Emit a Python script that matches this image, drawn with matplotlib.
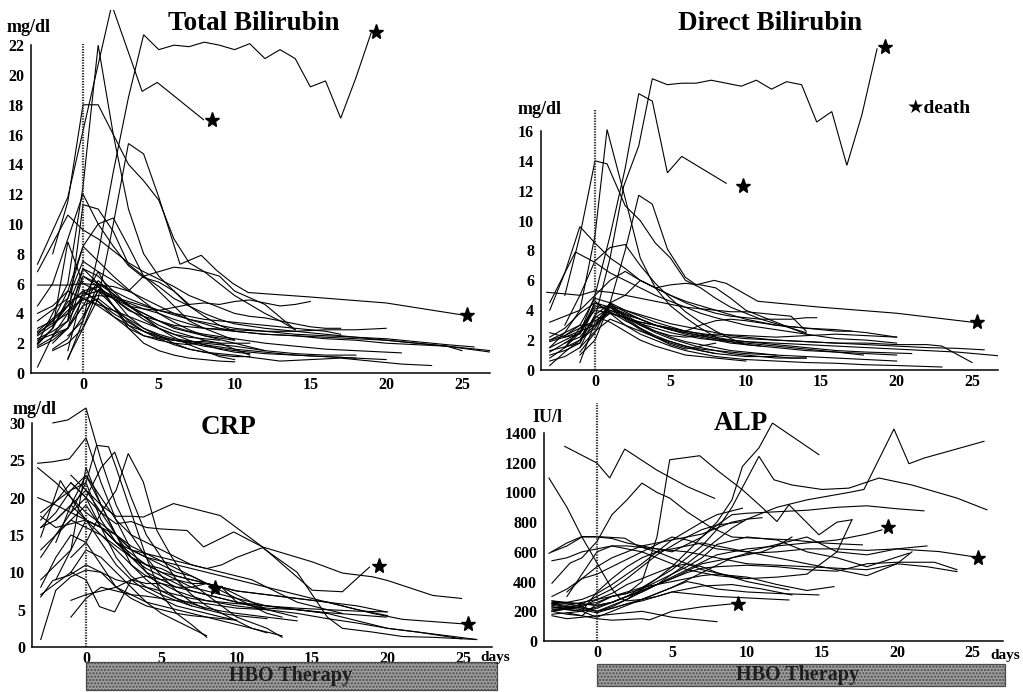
import matplotlib
matplotlib.use("Agg")
import matplotlib.pyplot as plt
from matplotlib.patches import Rectangle

W, H = 1023, 692
SERIF = "Liberation Serif"
plt.rcParams["hatch.color"] = "#6e6e6e"
plt.rcParams["hatch.linewidth"] = 1.0

days_ticks = [0, 5, 10, 15, 20, 25]

# ---- Total bilirubin (mg/dl): one (days, values) pair per patient ----
tbil = [
    ([-1, 0, 1, 2, 3, 4, 5, 6, 7, 8, 9, 10, 11, 12, 13, 14, 15, 16, 17, 18, 19],
     [2.5, 3.5, 8, 13.5, 18.5, 22.7, 21.7, 22.0, 21.9, 22.2, 22.0, 21.7, 22.1, 21.1, 21.7, 21.1, 19.2, 19.6, 17.1, 19.8, 22.8]),
    ([-3, -1, 1.9, 3.9, 4.9, 7.95], [7.3, 11.8, 24.7, 18.9, 19.5, 17.0]),
    ([-1, 0, 1, 2, 3, 4, 5, 6.4, 7.8, 8.8, 9.9, 10.9, 15, 20, 25],
     [1, 3, 5, 10, 15.4, 14.7, 11.8, 7.3, 7.9, 6.9, 6.0, 5.4, 5.1, 4.7, 3.9]),
    ([-3, -1, 0, 1, 2, 3, 4, 5, 6, 7, 8, 9, 10], [2, 6, 12.5, 22, 16, 11, 8, 6.5, 5.5, 4.5, 3.8, 3.2, 2.8]),
    ([-2, -1, 0, 1, 2, 3, 4, 5, 6, 7, 8, 9, 10, 11, 12, 13, 14],
     [8, 11.5, 18, 18, 16, 14, 12.9, 11.6, 9, 7.4, 6.8, 6, 5.2, 4.6, 4, 3.5, 2.9]),
    ([-3, -1, 0, 1, 2, 3, 4, 5, 6, 7, 8, 9, 10, 11, 12, 13, 14, 15, 16, 17],
     [6.8, 10.6, 9.6, 9, 8.2, 7.4, 6.8, 6.3, 5.8, 5.2, 4.8, 4.4, 4.0, 3.8, 3.7, 3.5, 3.3, 3.1, 3.0, 3.0]),
    ([-2, -1, 0, 1, 2, 3, 4, 5, 6, 7, 8, 9, 10], [3, 5, 8.5, 10, 10.4, 8.5, 6.5, 5.5, 4.5, 3.5, 3, 2.6, 2.2]),
    ([-1, 0, 1, 2, 3, 4, 5, 6, 7, 8, 9, 10, 12, 14, 16, 18, 20, 22, 24, 26.9],
     [3.5, 11.3, 11, 9.5, 7.3, 6.5, 5.8, 5, 4.5, 4, 3.6, 3.3, 3.0, 2.8, 2.6, 2.4, 2.2, 2.0, 1.8, 1.5]),
    ([-3, -2, -1, 0, 1, 2, 3, 4, 5, 6, 8, 10], [1.9, 3, 8.8, 6, 5.5, 5, 4.5, 4, 3.5, 3.0, 2.5, 2.2]),
    ([-3, -2, -1, 0, 1, 2, 3, 4, 5, 6, 7, 8, 9, 10, 11], [0.4, 2.5, 4, 6.5, 5.8, 5, 4.3, 3.6, 3, 2.6, 2.2, 1.9, 1.6, 1.4, 1.3]),
    ([-3, -1, 0, 1, 2, 3, 4, 5, 6, 7, 8, 9, 10, 12, 14],
     [5.9, 5.9, 6.0, 5.9, 5.8, 5.5, 6.5, 6.8, 7.1, 7.0, 6.8, 6.5, 5.5, 4.6, 2.9]),
    ([-3, -2, -1, 0, 1, 2, 3, 4, 5, 6, 7, 8, 9, 10, 11, 12, 13, 14, 15],
     [2.5, 3.2, 4.5, 7, 6, 5.3, 4.5, 4.3, 4.2, 4.4, 4.6, 4.7, 4.6, 4.8, 4.9, 4.7, 4.5, 4.6, 4.8]),
    ([-3, -2, -1, 0, 1, 2, 3, 4, 5, 6, 7, 8, 9, 10, 11, 12, 13, 14, 15, 16, 17],
     [4, 4.5, 5.5, 5, 5.2, 5.1, 4.8, 4.5, 4.2, 4, 3.8, 3.6, 3.5, 3.4, 3.3, 3.2, 3.1, 3.0, 2.9, 2.8, 2.6]),
    ([-3, -1, 0, 1, 2, 3, 4, 5, 6, 8, 10, 12, 14, 16, 18, 20],
     [2.8, 4.5, 5.5, 5.8, 5, 4.2, 3.8, 3.5, 3.2, 3.0, 2.9, 2.8, 2.8, 2.9, 2.9, 3.0]),
    ([-3, -2, -1, 0, 1, 2, 3, 4, 5, 6, 7, 8, 10, 12, 14, 16, 18, 20, 22, 24, 26.9],
     [2, 3, 4.8, 5.2, 5.5, 5, 4.7, 4.3, 4, 3.6, 3.3, 3.0, 2.8, 2.6, 2.5, 2.3, 2.2, 2.0, 1.9, 1.8, 1.4]),
    ([-3, -1, 0, 1, 2, 3, 4, 5, 6, 7, 8, 10, 12, 14, 16, 18, 21],
     [1.8, 3, 4.5, 6.2, 5.3, 4.5, 4, 3.5, 3.1, 2.8, 2.6, 2.3, 2.0, 1.8, 1.6, 1.5, 1.35]),
    ([-3, -2, -1, 0, 1, 2, 3, 4, 5, 6, 7, 8, 9, 10, 11], [2.3, 2.8, 3.5, 5.3, 5.8, 4.5, 3.2, 2.5, 2.3, 2.2, 2.1, 2.1, 2.0, 2.0, 2.0]),
    ([-2, -1, 0, 1, 2, 3, 4, 5, 6, 7, 8, 9, 10, 11], [1.6, 2.3, 3.8, 5.5, 4.5, 3.5, 2.8, 2.3, 1.9, 1.6, 1.4, 1.2, 1.1, 1.1]),
    ([-1, 0, 1, 2, 3, 4, 5, 6, 7, 8, 9, 10], [0.9, 3.5, 6, 4.5, 3, 2, 1.5, 1.2, 1.0, 0.9, 0.8, 0.75]),
    ([-3, -2, -1, 0, 1, 2, 3, 4, 5, 6, 7, 8, 10, 12, 14, 16, 18],
     [3, 3.5, 4.5, 5.5, 4.8, 4, 3.4, 2.8, 2.4, 2.2, 2.0, 1.8, 1.5, 1.3, 1.2, 1.1, 1.0]),
    ([-3, -1, 0, 1, 2, 3, 4, 5, 6, 8, 10, 12, 14, 16, 18, 20],
     [2.7, 4, 5, 4.5, 3.8, 3.2, 2.8, 2.5, 2.2, 1.9, 1.6, 1.4, 1.2, 1.1, 1.0, 0.9]),
    ([-2, -1, 0, 1, 2, 3, 4, 5, 6, 7, 8, 10, 13, 15, 17, 19, 21, 23],
     [2, 3, 5, 6.8, 5, 3.8, 3.0, 2.5, 2.0, 1.6, 1.4, 1.2, 0.8, 0.9, 1.0, 0.8, 0.6, 0.5]),
    ([-3, -2, -1, 0, 1, 2, 3, 4, 5, 6, 7, 8, 9, 10, 12, 14, 16, 18, 20, 22, 24, 25.8],
     [2.2, 2.6, 3, 6.5, 6, 5.5, 5.0, 4.6, 4.2, 3.9, 3.6, 3.4, 3.2, 3.0, 2.8, 2.6, 2.5, 2.4, 2.3, 2.1, 1.9, 1.75]),
    ([-3, -1, 0, 1, 2, 3, 4, 5, 6, 7, 8, 9, 10, 12, 14, 16, 18, 20, 22, 24, 25],
     [3.5, 5, 7.5, 6.8, 6.2, 5.5, 5, 4.5, 4.0, 3.6, 3.3, 3.0, 2.8, 2.6, 2.5, 2.4, 2.3, 2.2, 2.0, 1.8, 1.5]),
    ([-2, -1, 0, 1, 2, 3, 4, 5, 6, 7, 8, 9, 10, 11], [2.5, 3.5, 7, 6.5, 5.5, 4.5, 3.8, 3.2, 2.8, 2.5, 2.2, 2.0, 1.6, 1.2]),
    ([-1, 0, 1, 2, 3, 4, 5, 6, 7, 8], [1.5, 5.5, 4.8, 3.8, 3.0, 2.5, 2.2, 2.0, 1.9, 2.2]),
    ([-3, -2, -1, 0, 1, 2, 3, 4, 5, 6, 8, 10, 12, 14, 16, 18],
     [1.7, 2.2, 3, 4.5, 5, 4.2, 3.6, 3.0, 2.6, 2.3, 2.0, 1.8, 1.5, 1.3, 1.2, 1.2]),
    ([-2, -1, 0, 1, 2, 3, 4, 5, 6, 7, 8, 9], [3.2, 4.2, 5, 4.6, 4.2, 3.8, 3.4, 3.0, 2.6, 2.4, 2.3, 2.2]),
    ([-3, -2, -1, 0, 1, 2, 3, 4, 5, 6, 7], [4.5, 6, 9, 12, 10, 8.5, 7.2, 6.4, 6.1, 5.5, 4.6]),
    ([-3, -2, -1, 0, 1, 2, 3, 4, 5, 6, 7, 8, 10, 12], [2.6, 3.5, 5.5, 8.5, 7.5, 6.5, 5.6, 4.8, 4.0, 3.4, 2.9, 2.5, 2.0, 1.5]),
    ([-2, -1, 0, 1, 2, 3, 4, 5, 6, 7, 8, 9, 10], [1.5, 2, 3, 5.6, 5.2, 4.6, 3.8, 3.0, 2.4, 1.9, 1.5, 1.1, 0.9]),
]
tbil_death = ([8.5, 19.3, 25.3], [17.0, 22.9, 3.9])

# ---- Direct bilirubin (mg/dl) ----
dbil = [
    ([-1, 0, 1, 1.9, 2.9, 3.8, 4.8, 5.75, 6.7, 7.7, 8.7, 9.7, 10.7, 11.7, 12.7, 13.7, 14.7, 15.7, 16.7, 17.7, 18.7],
     [1.5, 3.5, 7.5, 12.3, 15, 19.5, 19.1, 19.2, 19.2, 19.4, 19.2, 19.0, 19.4, 18.8, 19.3, 19.1, 16.6, 17.3, 13.7, 17.1, 21.5]),
    ([-2, -1, 0, 1, 2, 2.9, 3.8, 4.8, 5.75, 8.7], [1.5, 2.5, 5, 9, 13.5, 18.5, 18, 13.2, 14.3, 12.5]),
    ([-1, 0, 1, 2, 2.9, 3.8, 4.8, 6, 6.7, 7.9, 8.7, 10.8, 15, 20, 25],
     [1.2, 2.5, 4.5, 8, 11.7, 11.1, 8.1, 6.2, 5.7, 6.0, 5.8, 4.6, 4.2, 3.8, 3.2]),
    ([-3, -2, -1, 0, 0.8, 2, 3, 4, 5, 6, 7, 8], [1.5, 2.5, 4, 9, 16.1, 11.5, 7.5, 5.5, 4.3, 3.5, 2.8, 2.2]),
    ([-2, -1, 0, 0.8, 2, 3, 4, 5, 6, 7, 8, 9, 10, 11, 12, 13, 14],
     [5, 9, 14, 13.8, 11, 10, 8.5, 7.5, 6, 5.5, 4.8, 4.2, 3.8, 3.4, 3.1, 2.8, 2.5]),
    ([-3, -2, -1, 0, 1, 2, 3, 4, 5, 6, 7, 8, 9, 10, 11, 12, 13, 14, 14.7],
     [4, 6.5, 9.6, 8.5, 7.5, 6.8, 6.0, 5.5, 5.0, 4.5, 4.1, 3.8, 3.6, 3.5, 3.4, 3.4, 3.4, 3.5, 3.5]),
    ([-2, -1, 0, 1, 2, 3, 4, 5, 6, 7, 8, 9, 10], [3, 5, 7.3, 8.2, 8.4, 7, 5.8, 4.8, 3.9, 3.2, 2.6, 2.1, 1.7]),
    ([-3, -2, -1.3, 0, 1, 2, 3, 4, 5, 6, 7, 8, 10, 12, 14, 16, 18, 20],
     [4.5, 6.5, 7.9, 7.2, 6.5, 6, 5.5, 5, 4.6, 4.2, 3.8, 3.5, 3.0, 2.7, 2.4, 2.1, 2.0, 1.8]),
    ([-3, -1, 0, 1, 2, 3, 4, 5, 6, 7, 8, 9, 10, 12, 14, 16, 17],
     [3.2, 4, 5, 6, 6.6, 6, 5.5, 5, 4.6, 4.3, 4.0, 3.7, 3.4, 3.0, 2.8, 2.6, 2.6]),
    ([-3.2, -2, -1, 0, 1, 2, 3, 4, 5, 6, 7, 8, 9, 10, 11, 12, 13, 14],
     [5.2, 5.1, 5.0, 5.3, 5.2, 5.0, 4.8, 4.6, 4.4, 4.2, 4.1, 4.0, 3.9, 3.9, 3.8, 3.7, 3.6, 2.6]),
    ([-1, 0, 1, 2, 3, 4, 5, 6, 7, 8, 9, 10, 11, 12, 13, 14],
     [2, 3, 4.5, 5, 6, 5.5, 5.7, 5.8, 5.7, 5.5, 4.8, 4.0, 3.6, 3.2, 2.8, 2.4]),
    ([-3, -2, -1, 0, 1, 2, 3, 4, 5, 6, 7, 8, 10, 12, 14, 16, 18, 20, 22, 24, 26.8],
     [1.2, 1.8, 2.5, 4.5, 4.2, 3.8, 3.4, 3.0, 2.7, 2.5, 2.3, 2.1, 1.9, 1.8, 1.7, 1.6, 1.5, 1.4, 1.3, 1.2, 0.95]),
    ([-3, -2, -1, 0, 1, 2, 3, 4, 5, 6, 8, 10, 12, 14, 16, 18, 20, 22, 24, 25.8],
     [2, 2.3, 3, 4.8, 4.5, 4, 3.6, 3.2, 2.9, 2.6, 2.3, 2.1, 2.0, 1.9, 1.8, 1.7, 1.6, 1.5, 1.45, 1.35]),
    ([-3, -2, -1, 0, 1, 2, 3, 4, 5, 6, 7, 8, 10, 12, 14, 16, 17.8],
     [0.8, 1.5, 2.8, 4, 3.8, 3.5, 3.1, 2.8, 2.5, 2.3, 2.1, 2.0, 1.8, 1.6, 1.4, 1.2, 1.0]),
    ([-3, -1, 0, 1, 2, 3, 4, 5, 6, 7, 8, 10, 12, 14, 16, 18, 20],
     [1.5, 2.5, 4.3, 4.0, 3.5, 3.0, 2.6, 2.3, 2.2, 2.3, 2.4, 2.3, 2.2, 2.3, 2.4, 2.3, 2.2]),
    ([-2, -1, 0, 1, 2, 3, 4, 5, 6, 7, 8, 9, 10, 11, 12, 13, 14],
     [1.8, 2.2, 3.5, 4.2, 3.6, 3.0, 2.5, 2.1, 1.8, 1.5, 1.3, 1.1, 1.0, 0.9, 0.9, 0.8, 0.8]),
    ([-3, -2, -1, 0, 1, 2, 3, 4, 5, 6, 7, 8, 9, 10], [0.3, 1.2, 2, 3.6, 3.2, 2.6, 2.0, 1.6, 1.3, 1.0, 0.9, 0.8, 0.7, 0.6]),
    ([-3, -2, -1, 0, 1, 2, 3, 4, 5, 6, 7, 8, 10, 12, 14, 16, 18, 20, 23],
     [1, 1.3, 1.8, 4.6, 3.8, 3.0, 2.4, 2.0, 1.6, 1.3, 1.1, 0.9, 0.7, 0.6, 0.5, 0.45, 0.35, 0.3, 0.2]),
    ([-1, 0, 1, 2, 3, 4, 5, 6, 7, 8, 9, 10, 11, 12, 13, 14],
     [0.5, 3.2, 4.2, 3.4, 2.7, 2.2, 1.8, 1.5, 1.3, 1.1, 1.0, 0.9, 0.9, 0.8, 0.8, 0.8]),
    ([-3, -2, -1, 0, 1, 2, 3, 4, 5, 6, 7, 8, 9, 10, 12, 14, 16, 18, 21],
     [2.5, 2.2, 2.6, 3, 3.8, 3.5, 3.2, 3.0, 2.8, 2.6, 2.4, 2.2, 2.0, 1.9, 1.7, 1.5, 1.3, 1.2, 1.1]),
    ([-2, -1, 0, 1, 2, 3, 4, 5, 6, 7, 8, 9, 10, 11, 12],
     [1.5, 2, 2.8, 4.3, 3.7, 3.1, 2.6, 2.2, 1.9, 1.7, 1.5, 1.3, 1.2, 1.1, 1.0]),
    ([-3, -2, -1, 0, 1, 2, 3, 4, 5, 6, 7, 8, 9, 10, 12, 14, 16, 18, 20, 22, 23, 25],
     [1.9, 2.2, 2.4, 4.1, 4.3, 4.0, 3.7, 3.4, 3.1, 2.9, 2.7, 2.5, 2.3, 2.2, 2.0, 1.9, 1.8, 1.8, 1.7, 1.7, 1.6, 0.5]),
    ([-1, 0, 1, 2, 3, 4, 5, 6, 7, 8], [1.0, 2.0, 4.5, 3.5, 2.8, 2.2, 1.7, 1.4, 1.6, 1.8]),
    ([-3, -2, -1, 0, 1, 2, 3, 4, 5, 6, 7, 8, 9, 10, 12, 14, 16, 18, 20],
     [0.6, 0.9, 1.5, 2.6, 3.4, 3.0, 2.6, 2.2, 1.9, 1.6, 1.4, 1.3, 1.2, 1.1, 1.0, 0.9, 0.8, 0.7, 0.6]),
    ([-2, -1, 0, 1, 2, 3, 4, 5, 6, 7, 8, 9, 10, 12, 14, 16, 18, 20],
     [2.3, 2.8, 3.3, 3.8, 3.5, 3.2, 3.0, 2.8, 2.6, 3.0, 3.3, 3.4, 3.3, 3.0, 2.8, 2.7, 2.5, 2.2]),
    ([-3, -2, -1, 0, 1, 2, 3, 4, 5, 6, 7, 8], [2.2, 2.8, 3.8, 4.5, 3.9, 3.3, 2.8, 2.3, 1.9, 1.6, 1.3, 1.1]),
    ([-3, -1, 0, 1, 2, 3, 4, 5, 6, 7, 8, 9, 10, 11], [1.3, 1.8, 3.7, 4.4, 3.9, 3.4, 3.0, 2.7, 2.4, 2.2, 2.0, 1.8, 1.7, 1.6]),
    ([-3, -2, -1, 0, 1, 2, 3, 4, 5, 6, 7, 8, 9, 10, 12, 14, 16, 18, 20],
     [2.0, 2.5, 3.0, 3.0, 4.0, 3.7, 3.4, 3.0, 2.7, 2.5, 2.3, 2.1, 1.9, 1.7, 1.5, 1.3, 1.2, 1.1, 1.0]),
]
dbil_death = ([9.8, 19.25, 25.3], [12.3, 21.6, 3.2])

# ---- CRP (mg/dl) ----
crp = [
    ([-2.2, -1.2, 0, 1, 2, 3, 4, 5, 6, 7, 8], [30, 30.4, 32, 25, 19, 15, 12, 9.5, 7.5, 6, 5]),
    ([-3.2, -2.2, -1.1, 0, 1, 2, 3, 4, 5, 6, 7], [24.6, 24.8, 25.2, 28, 22, 17, 13, 10, 8, 6.5, 5.5]),
    ([-3.2, -2, -1, 0, 1, 2, 3, 4, 5, 6, 7, 8, 9, 10, 11, 12],
     [24, 22, 20, 18, 16.5, 15, 13.5, 12.5, 11.5, 10.5, 9.5, 8.5, 8, 7, 6, 5]),
    ([-3.2, -2, -1, 0, 1, 2, 3, 4, 5, 6, 7, 8, 9, 10, 12, 14, 16, 18, 20],
     [20, 19, 18, 17, 16, 15, 13, 12, 11, 10, 9.5, 8.5, 8, 7.5, 7, 6.5, 6, 5, 4.2]),
    ([-3, -1.7, -1, 0, 1, 2, 3, 4, 5, 6, 7, 8, 9, 10], [14.7, 22.3, 20, 17, 14, 11, 9, 7.5, 6.5, 5.5, 5, 4.5, 4, 3.6]),
    ([-3, -2, -1, 0, 1, 2, 3, 4, 5, 6, 7, 8, 9, 10, 11, 12, 13],
     [1, 7.6, 9.4, 10.3, 10, 8, 7, 6, 5.5, 5, 4.5, 4, 3.5, 3, 2.5, 2, 1.5]),
    ([-3, -2.2, -1.1, 0, 1, 2, 3, 4, 5, 6, 7, 8, 9, 10, 12, 14, 16, 18, 20],
     [6.7, 8.9, 9.6, 11, 10, 9, 8.5, 8, 7.5, 7, 6.5, 6.2, 6, 5.8, 5.5, 5.2, 5, 4.8, 4.7]),
    ([-1, 0, 1, 2, 3, 4, 5, 6, 7, 8, 9, 10, 11, 12, 13], [6.25, 7, 7.5, 8, 9, 8.5, 8.5, 8, 8, 8.5, 7.5, 6.5, 5.5, 4.5, 4]),
    ([-1, 0, 0.9, 1.9, 3, 4, 5, 6, 7, 8, 9, 10, 12, 14], [10, 9, 5.4, 4.7, 9, 9.5, 9, 9, 8.5, 8.5, 8, 6, 5, 4]),
    ([-1, 0, 1, 2, 2.8, 3.8, 4.7, 5.7, 6.7, 8, 9, 10, 12, 13], [12, 14, 18, 21, 25.9, 22.1, 15.6, 12, 9, 7, 5.5, 4, 2.5, 1.3]),
    ([-1, 0, 1, 1.9, 3, 4, 5, 6, 7, 8, 9, 10, 11, 12], [18, 20, 24, 26.1, 20, 15, 12, 9, 7, 5.5, 4.5, 3.5, 2.5, 1.9]),
    ([-2, -1, 0, 0.7, 1.5, 2, 3, 4, 5, 6, 7, 8], [15, 18, 22, 27, 26.8, 24, 18, 12, 7, 4.5, 3, 1.3]),
    ([-1, 0, 1, 2, 3, 3.8, 5.8, 8.9, 11.7, 15, 17, 19, 20, 23, 24.9],
     [23, 21, 19, 17.5, 17.5, 17.4, 19.2, 17.6, 13.4, 11.4, 9.9, 9.4, 8.9, 6.9, 6.5]),
    ([-1, 0, 1, 2, 3, 4, 5, 6.7, 7.8, 9.8, 11.7, 15, 17, 18.8],
     [22, 20, 18, 16.5, 16.8, 16, 15.8, 15.6, 13.4, 15.4, 13.4, 7.6, 7.4, 10.7]),
    ([-2, -1, 0, 1, 2, 3, 4, 5, 6, 7, 8, 9, 10, 12, 14, 16, 17, 19, 21, 25],
     [17, 19, 21, 18, 15, 13, 12, 11.5, 11, 10.5, 10, 9.5, 9, 8, 7, 6, 5.5, 4.5, 3.7, 3.1]),
    ([-3, -2, -1, 0, 1, 2, 3, 4, 5, 6, 7, 8, 8.5], [16, 18, 21, 22, 17, 14, 12.5, 11, 10.5, 9.5, 9, 8.5, 8]),
    ([-3, -2, -1, 0, 1, 2, 3, 4, 5, 6, 7, 8, 10, 12, 14, 16, 18, 20, 22, 24, 25.9],
     [16, 17, 19, 17, 15, 13, 11, 9.5, 8.5, 7.5, 6.8, 6.2, 5.5, 5, 4.5, 3.8, 3.2, 2.5, 2, 1.5, 1.0]),
    ([-3, -1, 0, 1, 2, 3, 4, 5, 6, 7, 8, 10, 12, 14, 16, 18, 20, 22, 24.9],
     [18, 21, 23, 19, 15, 12, 10, 9, 8, 7.5, 7, 6, 5.5, 5, 4.5, 3.5, 2.5, 2, 1.1]),
    ([-3, -2, -1, 0, 1, 2, 3, 4, 5, 6, 7, 8, 9, 10, 12, 14, 16, 18, 19.9],
     [12, 15, 17, 16, 15, 13.5, 12, 11, 10, 9.5, 9, 8.5, 8, 7.5, 7, 6.5, 6, 5.5, 4.7]),
    ([-2, -1, 0, 1, 2, 3, 4, 5, 6, 7, 8, 9, 10, 11, 12, 14, 16, 18, 19.9],
     [9, 13, 17, 16, 14, 12, 10.5, 9.5, 8.5, 7.5, 7, 6.5, 6, 5.5, 5.2, 5, 4.6, 4.3, 4.0]),
    ([-3, -2, -1, 0, 1, 2, 3, 4, 5, 6, 7, 8, 9, 9.9], [8, 12, 15, 14, 11, 8, 6.5, 5.5, 5, 4.5, 4.2, 4, 3.8, 3.6]),
    ([-3, -2, -1, 0, 1, 2, 3, 4, 5, 6, 7, 8, 9, 10, 11, 12],
     [17, 19.5, 22, 20, 16, 12, 9.5, 8, 7, 6.2, 5.5, 5, 4.5, 4.2, 4, 3.8]),
    ([-2, -1, 0, 1, 2, 3, 4, 5, 6, 7, 8, 9, 10, 11, 12, 14, 16, 17],
     [14, 19, 23, 20, 17, 15, 14, 13, 12, 11, 10.5, 10, 9.5, 9, 8, 6, 5, 4.5]),
    ([-3, -1, 0, 1, 2, 3, 4, 5, 6, 7, 8], [7, 10, 13, 12, 10, 8, 6, 4.5, 3.5, 2.5, 1.5]),
    ([-3, -2, -1, 0, 1, 2, 3, 4, 5, 6, 7, 8, 9, 10, 11.7, 14, 16, 17, 19, 21, 23, 25.9],
     [13, 15, 17, 19, 16, 14, 13, 12.5, 12, 11.5, 11, 10.5, 11, 12, 13.3, 10, 4, 2.5, 2, 1.4, 1.3, 1.0]),
    ([-1, 0, 1, 2, 3, 4, 5, 6, 7, 8, 9, 10, 12], [4, 6.5, 8, 7.5, 7, 6.8, 6.5, 6.2, 6, 5.8, 5.5, 5.2, 5]),
    ([-3, -2, -1, 0, 1, 2, 3, 4, 5, 6, 7, 8, 9, 10, 12, 14, 16],
     [17.5, 16, 16.5, 17, 16, 14, 12, 11, 10, 9, 8, 7.5, 7, 6.5, 5.5, 5, 4.5]),
    ([-3, -2, -1, 0, 1, 2, 3, 4, 5, 6, 7, 8, 9, 10, 12, 14],
     [9, 11, 13, 24, 19, 15, 11, 9, 7.5, 6.5, 5.8, 5.2, 4.8, 4.5, 4, 3.5]),
]
crp_death = ([8.55, 19.4, 25.3], [7.95, 10.85, 3.1])

# ---- ALP (IU/l) ----
alp = [
    ([-2.15, 0, 0.85, 1.85, 4, 6, 7.85], [1310, 1198, 1097, 1292, 1150, 1040, 960]),
    ([-3.2, -2, -1, 0, 1, 1.5, 2, 3, 4, 5, 7, 9, 11, 13], [1097, 900, 700, 525, 350, 290, 270, 280, 300, 330, 370, 380, 350, 310]),
    ([-3.2, -2, -1, 0, 1.85, 2.8, 4, 5, 6, 7, 9.7], [590, 660, 703, 703, 692, 636, 600, 560, 520, 480, 420]),
    ([-3, -1.8, -1, 0, 1, 2, 3, 4, 4.85, 6, 7.5, 9, 11, 13, 15, 17, 17.7],
     [389, 524, 560, 670, 850, 950, 1063, 1000, 962, 870, 771, 700, 690, 680, 660, 650, 647]),
    ([-3, -2, -1, 0, 1, 2, 3, 4, 4.85, 6.85, 8, 9.7, 11, 12, 12.8, 14.8, 16, 17],
     [200, 180, 170, 250, 300, 320, 400, 700, 1220, 1247, 1150, 1018, 900, 804, 917, 715, 800, 816]),
    ([-3, -2, -1, 0, 1, 2, 3, 4, 5, 6, 7, 8, 9, 9.7, 10.8, 11.7, 14.8],
     [250, 230, 220, 200, 230, 280, 350, 420, 500, 600, 700, 800, 950, 1175, 1300, 1467, 1254]),
    ([-3, -1, 0, 1, 2, 3, 4, 5, 6, 7, 8, 9, 10.8, 11.8, 13, 15, 16.8, 18.8, 21, 24, 26],
     [230, 200, 220, 260, 300, 360, 420, 480, 560, 640, 750, 900, 1243, 1085, 1050, 1020, 1029, 1097, 1050, 962, 883]),
    ([-3, -1, 0, 1, 2, 3, 4, 5, 6, 7, 8, 9, 10, 12, 14, 16.8, 17.8, 19.8, 20.8, 21.8, 25.8],
     [210, 230, 200, 240, 280, 330, 380, 450, 520, 600, 680, 760, 820, 900, 950, 1000, 1020, 1427, 1193, 1231, 1344]),
    ([-3, -1, 0, 1, 2, 3, 4, 5, 6, 7, 8, 9, 10, 12, 14, 16, 18, 19],
     [260, 250, 240, 260, 300, 330, 380, 430, 480, 530, 580, 600, 620, 640, 660, 680, 720, 748]),
    ([-3, -1, 0, 1, 2, 3, 4, 5, 6, 7, 8, 9, 10, 12, 14, 16, 18, 20, 22.8, 25],
     [180, 200, 160, 200, 240, 280, 320, 360, 410, 460, 510, 560, 590, 600, 620, 620, 610, 620, 602, 569]),
    ([-2, -1, 0, 1, 2, 3, 3.5, 5, 7, 9], [190, 170, 150, 140, 145, 150, 142, 200, 230, 250]),
    ([-3, -2, -1, 0, 1, 2, 3, 4, 5, 6, 7, 8, 9, 10, 12, 14, 16, 18, 20, 21.8],
     [600, 640, 700, 700, 690, 660, 640, 620, 600, 650, 700, 780, 850, 860, 870, 880, 900, 910, 890, 876]),
    ([-3, -2, -1, 0, 1, 2, 3, 4, 5, 6, 7, 8, 9, 10, 12, 14, 16, 18, 20, 22, 24],
     [540, 560, 600, 620, 640, 640, 630, 620, 610, 600, 580, 560, 540, 520, 510, 500, 490, 480, 520, 500, 467]),
    ([-3, -2, -1, 0, 1, 2, 3, 4, 5, 6, 7, 8, 10, 12, 14, 16, 18, 20.8],
     [250, 240, 260, 280, 300, 320, 350, 400, 450, 500, 560, 650, 700, 680, 600, 560, 500, 591]),
    ([-3, -1, 0, 1, 2, 3, 4, 5, 6, 7, 8, 10, 12, 14, 15.8],
     [220, 240, 260, 300, 330, 360, 380, 400, 420, 440, 450, 430, 380, 340, 366]),
    ([-3, -2, -1, 0, 1, 2, 3, 4, 5, 6, 7, 8, 10, 12, 14.8],
     [270, 250, 230, 200, 220, 250, 280, 320, 360, 400, 380, 350, 330, 320, 310]),
    ([-3, -1, 0, 1, 2, 3, 4, 5, 6, 7, 8, 10, 12.8], [240, 210, 190, 220, 250, 270, 300, 330, 320, 310, 300, 290, 276]),
    ([-3, -1, 0, 1, 2, 3, 4, 5, 6, 7, 8, 10, 12.8], [200, 230, 280, 320, 380, 420, 460, 500, 520, 500, 460, 400, 344]),
    ([-3, -2, -1, 0, 1, 2, 3, 4, 5, 6, 7, 8, 9.7], [200, 220, 250, 300, 350, 420, 500, 580, 640, 700, 750, 780, 804]),
    ([-3, -2, -1, 0, 1, 2, 3, 4, 5, 6, 7, 8, 9.7], [250, 260, 280, 320, 380, 450, 520, 600, 680, 740, 800, 850, 894]),
    ([-3, -2, -1, 0, 1, 2, 3, 4, 5, 6, 7, 8], [170, 150, 160, 170, 180, 190, 200, 180, 160, 150, 140, 130]),
    ([-2, -1, 0, 1, 2, 3, 4, 5, 6, 7, 8, 10, 12, 14, 16, 17],
     [300, 450, 600, 640, 620, 600, 560, 520, 480, 460, 440, 420, 430, 450, 600, 816]),
    ([-3, -2, -1, 0, 1, 2, 3, 4, 5, 6, 7, 8, 10, 12, 14, 16, 18, 20, 22],
     [300, 350, 420, 450, 500, 550, 600, 650, 700, 680, 650, 620, 600, 650, 700, 600, 580, 620, 640]),
    ([-3, -2, -1, 0, 1, 2, 3, 4, 5, 6, 7, 8, 9, 10, 11, 12, 13],
     [230, 210, 200, 230, 260, 300, 340, 380, 420, 470, 520, 540, 560, 580, 600, 640, 700]),
    ([-1, 0, 1, 2, 3, 4, 5, 6, 7, 8, 10, 12, 14, 16, 18, 20, 21],
     [200, 330, 420, 500, 560, 600, 620, 640, 660, 640, 600, 560, 520, 480, 440, 520, 600]),
    ([-3, -2, -1, 0, 1, 2, 3, 4, 5, 6, 7, 8, 10, 12, 14, 16, 18, 20, 22.5, 24],
     [270, 260, 250, 240, 260, 300, 340, 380, 420, 460, 490, 500, 510, 500, 480, 470, 520, 530, 530, 480]),
    ([-2, -1, 0, 1, 2, 3, 4, 5, 6, 7, 8, 9, 10, 11],
     [330, 420, 500, 560, 600, 640, 660, 680, 700, 720, 760, 800, 820, 830]),
]
alp_death = ([9.4, 19.4, 25.4], [250, 766, 557])

fig = plt.figure(figsize=(W / 100, H / 100), dpi=100)
fig.patch.set_facecolor("white")


def add_panel(box, xlim, ylim, yticks, series, deaths, ytop, dotted_top):
    left, right, bottom, top = box
    ax = fig.add_axes([left / W, 1 - bottom / H, (right - left) / W, (bottom - top) / H])
    for d, v in series:
        ax.plot(d, v, color="black", lw=0.8, solid_joinstyle="miter")
    ax.plot(deaths[0], deaths[1], ls="none", marker="*", ms=11, color="black")
    ax.plot([0, 0], [0, dotted_top], color="#333333", lw=1.6, ls=(0, (0.6, 0.6)))
    ax.set_xlim(*xlim)
    ax.set_ylim(*ylim)
    ax.set_xticks(days_ticks)
    ax.set_yticks(yticks)
    for s in ["top", "right"]:
        ax.spines[s].set_visible(False)
    ax.spines["left"].set_bounds(0, ytop)
    for s in ["left", "bottom"]:
        ax.spines[s].set_linewidth(1.1)
    ax.tick_params(length=0, labelsize=11.5)
    ax.tick_params(axis="y", pad=5)
    ax.tick_params(axis="x", pad=3)
    for lab in ax.get_xticklabels() + ax.get_yticklabels():
        lab.set_fontfamily(SERIF)
        lab.set_fontweight("bold")
    ax.patch.set_alpha(0)
    return ax


add_panel((31, 490, 373, 10), (-3.43, 26.85), (0, 24.36), range(0, 23, 2),
          tbil, tbil_death, 22, 22.1)
add_panel((541, 998, 370, 10), (-3.58, 26.72), (0, 24.1), range(0, 17, 2),
          dbil, dbil_death, 16, 17.4)
add_panel((32, 492, 647, 400), (-3.58, 26.92), (0, 33.07), range(0, 31, 5),
          crp, crp_death, 30, 32)
add_panel((544, 1003, 641, 395), (-3.53, 27.07), (0, 1655.8), range(0, 1401, 200),
          alp, alp_death, 1400, 1600)


def ftext(x, y, s, size, ha="center", **kw):
    fig.text(x / W, 1 - y / H, s, fontsize=size, ha=ha, va="center",
             fontweight="bold", family=kw.pop("family", SERIF), **kw)


ftext(254, 24, "Total Bilirubin", 19.5)
ftext(770, 23, "Direct Bilirubin", 19.5)
ftext(228, 428, "CRP", 19.5)
ftext(741, 424, "ALP", 19.5)
ftext(7, 28, "mg/dl", 13, ha="left")
ftext(518, 109, "mg/dl", 13, ha="left")
ftext(13, 409, "mg/dl", 13, ha="left")
ftext(532, 418, "IU/l", 13, ha="left")
ftext(907, 108, "★death", 14, ha="left", family=[SERIF, "DejaVu Sans"])
ftext(480, 657, "days", 11, ha="left")
ftext(990, 655, "days", 11, ha="left")

# HBO therapy bars
for (x0, x1, y0, y1, tx, ty) in [(86, 497, 662, 690, 291, 676), (597, 1005, 664, 686, 798, 675)]:
    fig.patches.append(Rectangle((x0 / W, 1 - y1 / H), (x1 - x0) / W, (y1 - y0) / H,
                                 transform=fig.transFigure, facecolor="#9c9c9c",
                                 edgecolor="#4a4a4a", lw=0.9, hatch=".....", zorder=1))
    ftext(tx, ty, "HBO Therapy", 14.5, color="#1e1e1e")

fig.savefig("out.png", dpi=100, facecolor="white")
